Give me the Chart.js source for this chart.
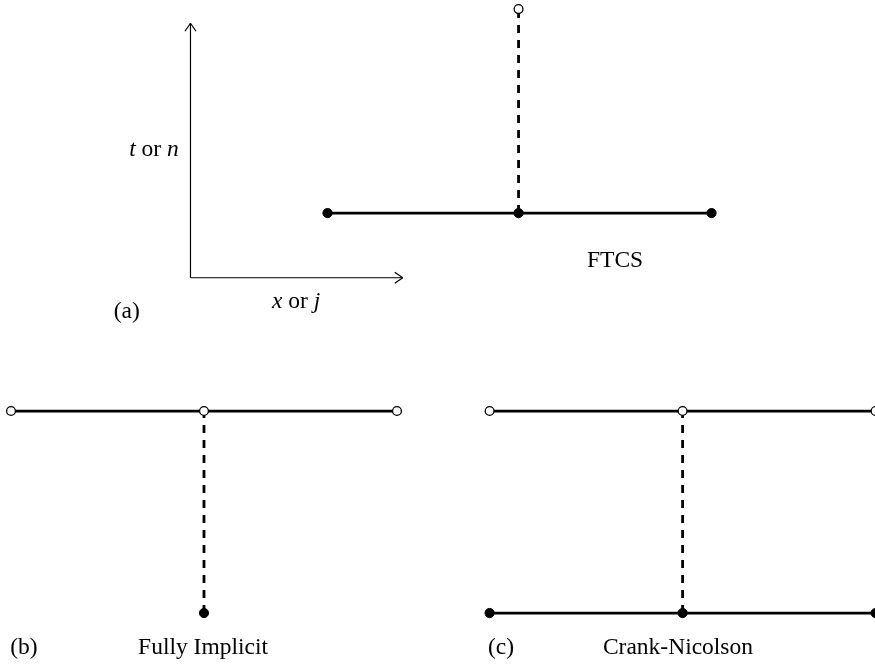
<!DOCTYPE html>
<html>
<head>
<meta charset="utf-8">
<script src="https://cdn.jsdelivr.net/npm/chart.js@4.4.1/dist/chart.umd.min.js"></script>
<style>
  html, body { margin: 0; padding: 0; background: #fff; }
  #stencil_chart { display: block; }
</style>
</head>
<body>
<canvas id="stencil_chart" width="875" height="671"></canvas>
<script>
// Finite difference stencils, in grid units:
// one step in x = one mesh point j, one step in y = one time level n

// (a) the t / x axes sketch
const axisOriginX = 0.93;
const axisOriginY = 1.66;
const axisXEnd = 2.03;
const axisYEnd = 2.92;

// FTCS
const ftcsRowX = [1.64, 2.63, 3.63];
const ftcsRowY = 1.98;
const ftcsNewX = 2.63;
const ftcsNewY = 2.99;

// (b) Fully implicit
const implicitRowX = [0, 1, 2];
const implicitRowY = 1;
const implicitOldX = 1;
const implicitOldY = 0;

// (c) Crank-Nicolson
const cnRowX = [2.48, 3.48, 4.48];
const cnMidX = 3.48;
const cnNewY = 1;
const cnOldY = 0;

// texts
const captions = ['(a)', 'FTCS', '(b)', 'Fully Implicit', '(c)', 'Crank-Nicolson'];
const axisTitles = [
    [['t', true], [' or ', false], ['n', true]],
    [['x', true], [' or ', false], ['j', true]]
];

// where the texts sit (centre x, baseline y), grid units
const captionPlaces = [[0.60, 1.46], [3.13, 1.713], [0.067, -0.203], [0.995, -0.203], [2.539, -0.203], [3.456, -0.203]];
const axisTitlePlaces = [[0.741, 2.262], [1.477, 1.51]];

const pts = (xs, y) => xs.map(x => ({ x: x, y: y }));
const seg = (x1, y1, x2, y2) => [{ x: x1, y: y1 }, { x: x2, y: y2 }];

// styles
const solid = { showLine: true, borderColor: '#000', borderWidth: 2.8, pointRadius: 0, order: 2 };
const dashed = { showLine: true, borderColor: '#000', borderWidth: 2.8, borderDash: [8, 7], pointRadius: 0, order: 2 };
const thin = { showLine: true, borderColor: '#000', borderWidth: 1.2, pointRadius: 0, order: 2, arrow: true };
const filled = { showLine: false, pointRadius: 4.6, pointBackgroundColor: '#000', pointBorderColor: '#000', pointBorderWidth: 1, order: 0 };
const hollow = { showLine: false, pointRadius: 4.4, pointBackgroundColor: '#fff', pointBorderColor: '#000', pointBorderWidth: 1.3, order: 0 };

const datasets = [
    // axes
    { ...thin, data: seg(axisOriginX, axisOriginY, axisXEnd, axisOriginY) },
    { ...thin, data: seg(axisOriginX, axisOriginY, axisOriginX, axisYEnd) },
    // FTCS
    { ...solid, data: pts(ftcsRowX, ftcsRowY) },
    { ...dashed, data: seg(ftcsNewX, ftcsRowY, ftcsNewX, ftcsNewY) },
    { ...filled, data: pts(ftcsRowX, ftcsRowY) },
    { ...hollow, data: [{ x: ftcsNewX, y: ftcsNewY }] },
    // fully implicit
    { ...solid, data: pts(implicitRowX, implicitRowY) },
    { ...dashed, data: seg(implicitOldX, implicitOldY, implicitOldX, implicitRowY) },
    { ...hollow, data: pts(implicitRowX, implicitRowY) },
    { ...filled, data: [{ x: implicitOldX, y: implicitOldY }] },
    // Crank-Nicolson
    { ...solid, data: pts(cnRowX, cnNewY) },
    { ...solid, data: pts(cnRowX, cnOldY) },
    { ...dashed, data: seg(cnMidX, cnOldY, cnMidX, cnNewY) },
    { ...hollow, data: pts(cnRowX, cnNewY) },
    { ...filled, data: pts(cnRowX, cnOldY) }
];

// open arrow heads at the end of the axis lines
const arrowHeads = {
    id: 'arrowHeads',
    afterDatasetsDraw(chart) {
        const ctx = chart.ctx;
        chart.data.datasets.forEach((ds, i) => {
            if (!ds.arrow) return;
            const els = chart.getDatasetMeta(i).data;
            const a = els[els.length - 2], b = els[els.length - 1];
            const ang = Math.atan2(b.y - a.y, b.x - a.x);
            const len = 8, half = 5.5;
            ctx.save();
            ctx.strokeStyle = '#000';
            ctx.lineWidth = 1.2;
            ctx.beginPath();
            for (const s of [-1, 1]) {
                ctx.moveTo(b.x - len * Math.cos(ang) - s * half * Math.sin(ang),
                           b.y - len * Math.sin(ang) + s * half * Math.cos(ang));
                ctx.lineTo(b.x, b.y);
            }
            ctx.stroke();
            ctx.restore();
        });
    }
};

const FONT = '"Liberation Serif", "Times New Roman", serif';
const SIZE = 23.5;

const textLabels = {
    id: 'textLabels',
    afterDraw(chart) {
        const ctx = chart.ctx;
        const sx = chart.scales.x, sy = chart.scales.y;
        ctx.save();
        ctx.fillStyle = '#000';
        ctx.textBaseline = 'alphabetic';
        ctx.textAlign = 'left';
        const put = (parts, place) => {
            let total = 0;
            parts.forEach(([t, it]) => {
                ctx.font = (it ? 'italic ' : '') + SIZE + 'px ' + FONT;
                total += ctx.measureText(t).width;
            });
            let x = sx.getPixelForValue(place[0]) - total / 2;
            const y = sy.getPixelForValue(place[1]);
            parts.forEach(([t, it]) => {
                ctx.font = (it ? 'italic ' : '') + SIZE + 'px ' + FONT;
                ctx.fillText(t, x, y);
                x += ctx.measureText(t).width;
            });
        };
        captions.forEach((c, i) => put([[c, false]], captionPlaces[i]));
        axisTitles.forEach((t, i) => put(t, axisTitlePlaces[i]));
        ctx.restore();
    }
};

const config = {
    type: 'scatter',
    data: { datasets: datasets },
    options: {
        responsive: false,
        animation: false,
        layout: { padding: 0, autoPadding: false },
        clip: false,
        scales: {
            x: { type: 'linear', display: false, min: -0.057, max: 4.477 },
            y: { type: 'linear', display: false, min: -0.287, max: 3.035 }
        },
        plugins: {
            legend: { display: false },
            tooltip: { enabled: false }
        }
    },
    plugins: [arrowHeads, textLabels]
};

new Chart(document.getElementById('stencil_chart'), config);
</script>
</body>
</html>
